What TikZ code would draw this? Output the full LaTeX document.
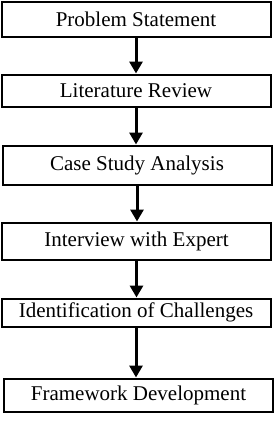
\documentclass[tikz,border=0pt]{standalone}
\usepackage{fontspec}
\setmainfont{Liberation Serif}
\usetikzlibrary{arrows.meta}

\begin{document}
\begin{tikzpicture}[x=1pt, y=-1pt,
    stepbox/.style={draw, line width=2pt, minimum width=269pt, inner sep=0pt,
        font=\fontsize{21}{24}\selectfont},
    flow/.style={-{Triangle[width=13pt,length=12pt]}, line width=3pt}]
    \useasboundingbox (0,0) rectangle (275,421);
    % Research steps
    \node[stepbox, minimum height=35pt] (problem) at (136,19) {Problem Statement};
    \node[stepbox, minimum height=32pt] (review) at (136,90.5) {Literature Review};
    \node[stepbox, minimum height=39pt] (casestudy) at (137,165) {Case Study Analysis};
    \node[stepbox, minimum height=37pt] (interview) at (136.5,241) {Interview with Expert};
    \node[stepbox, minimum height=28pt] (challenges) at (136,312.5) {Identification of Challenges};
    \node[stepbox, minimum height=33pt] (framework) at (138.5,395) {Framework Development};
    % Flow arrows
    \draw[flow] (problem.south) -- (problem.south |- review.north);
    \draw[flow] (review.south) -- (review.south |- casestudy.north);
    \draw[flow] (casestudy.south) -- (casestudy.south |- interview.north);
    \draw[flow] (interview.south) -- (interview.south |- challenges.north);
    \draw[flow] (challenges.south) -- (challenges.south |- framework.north);
\end{tikzpicture}
\end{document}
